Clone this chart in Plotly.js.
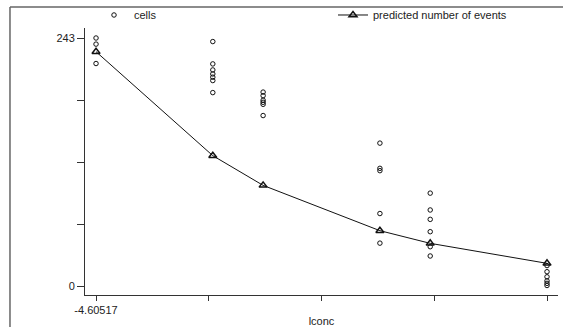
<!DOCTYPE html>
<html>
<head>
<meta charset="utf-8">
<script src="https://cdn.plot.ly/plotly-3.0.1.min.js"></script>
<style>html,body{margin:0;padding:0;background:#fff;}#chart{width:563px;height:327px;}</style>
</head>
<body>
<div id="chart"></div>
<script>
// concentrations (log scale) for each group
const lconcLevels = [-4.60517, -2.99573, -2.30259, -0.69315, 0.0, 1.60944];
// observed cell counts per concentration
const cellsByLevel = [
  [243, 237, 218],
  [239.5, 217.6, 211.7, 207.8, 204.6, 201.3, 189.5],
  [190, 186.5, 182, 180, 178, 167],
  [140, 115.3, 113, 71, 42],
  [91, 74.5, 65.3, 53.2, 38.5, 29.4],
  [20, 14, 9, 5, 2.6, 0.5]
];
// predicted number of events
const predicted = [229.6, 127.7, 98.6, 54.2, 41.8, 22.2];
const xTickVals = [-4.60517, -3.05152, -1.49787, 0.05578, 1.60944];
const xTickText = ["-4.60517", "", "", "", "1.60944"];
const yTickVals = [0, 60.75, 121.5, 182.25, 243];
const yTickText = ["0", "", "", "", "243"];

const cx = [], cy = [];
cellsByLevel.forEach((arr, i) => arr.forEach(v => { cx.push(lconcLevels[i]); cy.push(v); }));

const traces = [
  {
    x: cx, y: cy, mode: 'markers', name: 'cells', type: 'scatter', legend: 'legend',
    marker: {symbol: 'circle-open', size: 4.5, color: '#111', line: {width: 1, color: '#111'}}
  },
  {
    x: lconcLevels, y: predicted, mode: 'lines+markers', name: 'predicted number of events', type: 'scatter', legend: 'legend2',
    line: {color: '#111', width: 1},
    marker: {symbol: 'triangle-up-open', size: 7, color: '#111', line: {width: 1.5, color: '#111'}}
  }
];

const font = {family: 'Liberation Sans, Arial, sans-serif', size: 11, color: '#222'};
const legBase = {orientation: 'h', xanchor: 'left', yanchor: 'middle', y: 1.0487,
  font: font, bgcolor: 'rgba(0,0,0,0)', borderwidth: 0};
const layout = {
  width: 563, height: 327,
  margin: {l: 85, r: 5, t: 28, b: 32, autoexpand: false},
  paper_bgcolor: '#fff', plot_bgcolor: '#fff',
  font: font,
  showlegend: true,
  legend: Object.assign({}, legBase, {x: (94 - 85) / 473}),
  legend2: Object.assign({}, legBase, {x: (333 - 85) / 473}),
  xaxis: {
    range: [-4.757, 1.761],
    showgrid: false, zeroline: false, showline: true, linecolor: '#333', linewidth: 1,
    ticks: 'outside', ticklen: 5, tickcolor: '#333', tickwidth: 1,
    tickmode: 'array', tickvals: xTickVals, ticktext: xTickText,
    tickfont: font, ticklabelstandoff: 0,
    title: {text: 'lconc', font: font, standoff: 3}
  },
  yaxis: {
    range: [-8.82, 252.8],
    showgrid: false, zeroline: false, showline: true, linecolor: '#333', linewidth: 1,
    ticks: 'outside', ticklen: 7, tickcolor: '#333', tickwidth: 1,
    tickmode: 'array', tickvals: yTickVals, ticktext: yTickText,
    tickfont: font
  },
  shapes: [
    {type: 'line', xref: 'paper', yref: 'paper', x0: -0.1586, x1: 1.02, y0: 1.0787, y1: 1.0787, line: {color: '#666', width: 1.5}},
    {type: 'line', xref: 'paper', yref: 'paper', x0: -0.1586, x1: -0.1586, y0: 1.0787, y1: -0.13, line: {color: '#666', width: 1.5}}
  ]
};
Plotly.newPlot('chart', traces, layout, {displayModeBar: false, staticPlot: true});
</script>
</body>
</html>
